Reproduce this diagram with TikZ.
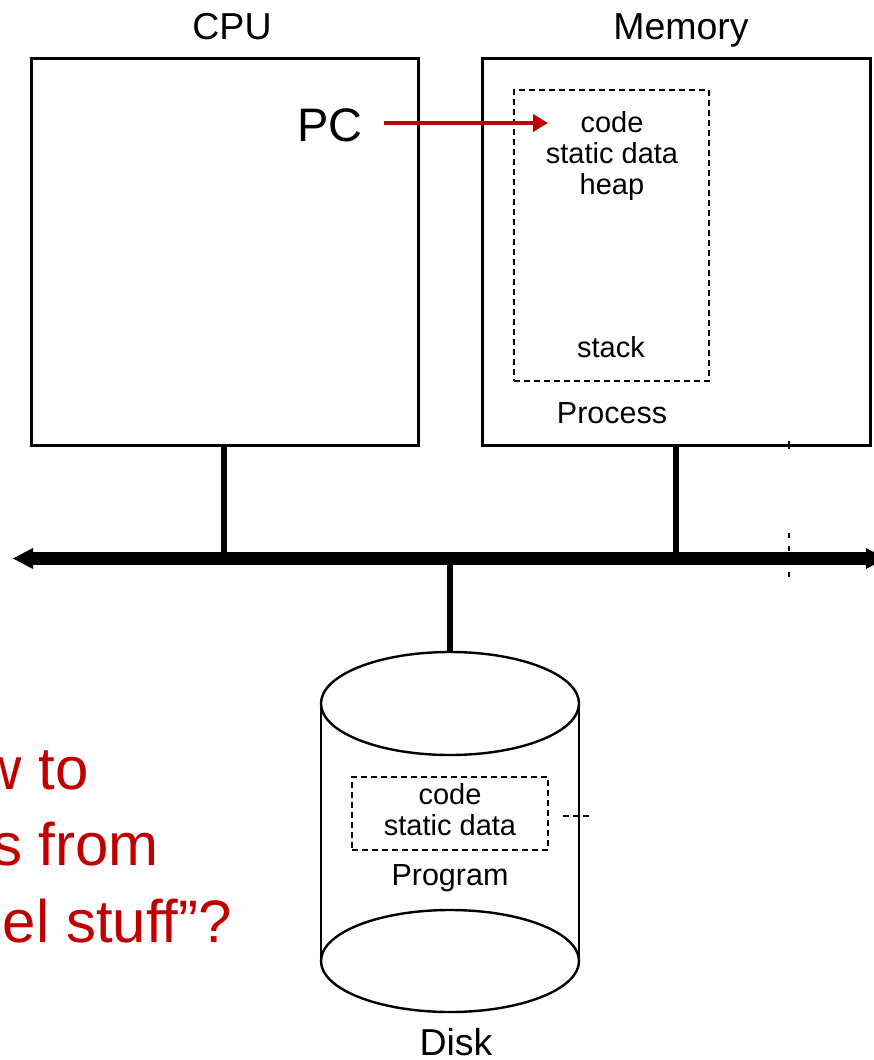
\documentclass[tikz,border=0pt]{standalone}
\usepackage{fontspec}
\setmainfont{Liberation Sans}
\usetikzlibrary{arrows.meta}
\definecolor{dred}{RGB}{192,0,0}
\begin{document}
\begin{tikzpicture}[x=1pt,y=-1pt,
  box/.style={draw, line width=3pt, inner sep=0pt},
  dbox/.style={draw, line width=2.6pt, dash pattern=on 6pt off 4pt, inner sep=0pt},
  dline/.style={line width=2.6pt, dash pattern=on 6pt off 4pt},
  conn/.style={line width=5.5pt},
  bus/.style={line width=13pt},
  lbl/.style={font=\fontsize{37.5}{40}\selectfont, inner sep=0pt},
  small/.style={font=\fontsize{29}{31}\selectfont, inner sep=0pt, align=center},
  mid/.style={font=\fontsize{30.5}{33}\selectfont, inner sep=0pt},
  redtxt/.style={font=\fontsize{60}{78}\selectfont, text=dred, inner sep=0pt},
  pcarrow/.style={draw=dred, line width=4.5pt, -{Triangle[length=15pt,width=17pt]}}
]
\useasboundingbox (0,0) rectangle (873,1060);

% CPU and Memory
\node[box, minimum width=387pt, minimum height=387pt] (cpu) at (224.5,251.5) {};
\node[box, minimum width=388pt, minimum height=387pt] (mem) at (676,251.5) {};
\node[lbl, anchor=base] (cpulbl) at (232,39) {CPU};
\node[lbl, anchor=base] (memlbl) at (681,39) {Memory};

% Process
\node[dbox, minimum width=195pt, minimum height=291pt] (proc) at (611.5,235.5) {};
\node[small] (seg) at (612,155.5) {code\\static data\\heap};
\node[small, anchor=base] (stack) at (611,357) {stack};
\node[mid, anchor=base] (proclbl) at (612,423) {Process};

% PC
\node[font=\fontsize{47}{50}\selectfont, inner sep=0pt, anchor=base] (pc) at (330,141) {PC};
\coordinate (pcA) at (384,123);
\coordinate (pcB) at (548,123);
\draw[pcarrow] (pcA) -- (pcB);

% Bus
\coordinate (busL) at (30,558.5);
\coordinate (busR) at (868,558.5);
\draw[bus] (busL) -- (busR);
\fill (13,558.5) -- (33,548) -- (33,569) -- cycle;
\fill (866,548) -- (886,558.5) -- (866,569) -- cycle;

% Connectors
\coordinate (cpuP) at (224,445);
\coordinate (memP) at (676,445);
\coordinate (dskP) at (450,652);
\draw[conn] (cpuP) -- (cpuP |- busL);
\draw[conn] (memP) -- (memP |- busL);
\draw[conn] (dskP |- busL) -- (dskP);

% right dashed marker
\coordinate (mkA) at (789,441);
\coordinate (mkB) at (789,449);
\coordinate (mkC) at (789,533);
\coordinate (mkD) at (789,578);
\draw[line width=2.6pt] (mkA) -- (mkB);
\draw[line width=2.6pt, dash pattern=on 5pt off 8pt] (mkC) -- (mkD);

% Disk
\draw[line width=2.4pt] (321,703.5) -- (321,961) (579,703.5) -- (579,961);
\draw[line width=2.4pt, fill=white] (450,703.5) ellipse [x radius=129pt, y radius=51.5pt];
\draw[line width=2.4pt] (450,961) ellipse [x radius=129pt, y radius=51pt];
\node[dbox, minimum width=196pt, minimum height=73pt] (prog) at (450,813.5) {};
\node[small] (pseg) at (450,809.5) {code\\static data};
\node[mid, anchor=base] (proglbl) at (450,885) {Program};
\coordinate (tailA) at (563,816);
\coordinate (tailB) at (590,816);
\draw[dline] (tailA) -- (tailB);
\node[lbl, anchor=base] (disklbl) at (456,1055) {Disk};

% red question text
\node[redtxt, anchor=base east] (q1) at (89,789) {w to};
\node[redtxt, anchor=base east] (q2) at (159,865) {s from};
\node[redtxt, anchor=base east] (q3) at (232,942) {el stuff”?};
\end{tikzpicture}
\end{document}
